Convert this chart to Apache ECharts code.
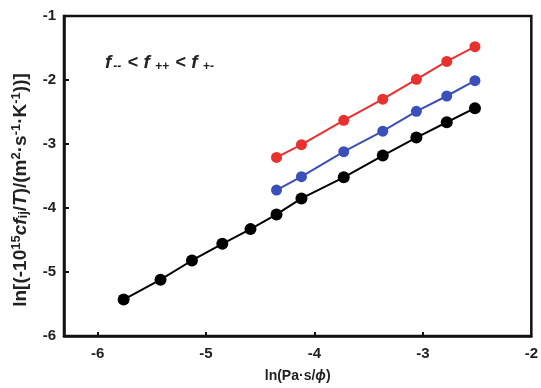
<!DOCTYPE html>
<html>
<head>
<meta charset="utf-8">
<script src="https://cdn.jsdelivr.net/npm/echarts@6/dist/echarts.min.js"></script>
<style>
  html, body { margin: 0; padding: 0; background: #fff; }
  #main { width: 541px; height: 388px; }
</style>
</head>
<body>
<div id="main"></div>
<script>
// data
var blackX = [-5.76, -5.42, -5.13, -4.85, -4.59, -4.35, -4.12, -3.73, -3.37, -3.06, -2.78, -2.52];
var blackY = [-5.43, -5.12, -4.82, -4.56, -4.33, -4.10, -3.85, -3.52, -3.18, -2.90, -2.66, -2.44];
var colX = [-4.35, -4.12, -3.73, -3.37, -3.06, -2.78, -2.52];
var blueY = [-3.72, -3.51, -3.12, -2.80, -2.49, -2.25, -2.01];
var redY = [-3.21, -3.01, -2.63, -2.30, -1.99, -1.71, -1.48];
var xTicks = [-6, -5, -4, -3, -2];

function pairs(xs, ys) {
  return xs.map(function (x, i) { return [x, ys[i]]; });
}

var chart = echarts.init(document.getElementById('main'));
var font = 'Liberation Sans';

chart.setOption({
  animation: false,
  grid: {
    left: 64, right: 8, top: 16, bottom: 49,
    show: true, borderColor: '#111', borderWidth: 2.5
  },
  xAxis: {
    type: 'value',
    min: -6.31, max: -2,
    splitLine: { show: false },
    axisLine: { show: true, onZero: false, lineStyle: { color: '#111', width: 2.5 } },
    axisTick: { show: true, inside: true, length: 4, customValues: [-6, -5, -4, -3], lineStyle: { color: '#111', width: 2 } },
    axisLabel: {
      customValues: xTicks, margin: 10, color: '#222',
      fontFamily: font, fontWeight: 'bold', fontSize: 15
    },
    name: 'ln(Pa·s/{i|ϕ})',
    nameLocation: 'middle', nameGap: 33,
    nameTextStyle: {
      fontFamily: font, fontWeight: 'bold', fontSize: 14, color: '#222',
      rich: { i: { fontFamily: font, fontWeight: 'bold', fontStyle: 'italic', fontSize: 14, color: '#222' } }
    }
  },
  yAxis: {
    type: 'value',
    min: -6, max: -1, interval: 1,
    splitLine: { show: false },
    axisLine: { show: true, onZero: false, lineStyle: { color: '#111', width: 2.5 } },
    axisTick: { show: true, inside: true, length: 5, lineStyle: { color: '#111', width: 2 } },
    axisLabel: { margin: 8, color: '#222', fontFamily: font, fontWeight: 'bold', fontSize: 15 }
  },
  graphic: [
    {
      type: 'text', x: 21, y: 190, rotation: Math.PI / 2,
      style: {
        text: 'ln[(-10{sup|15}{it|cf}{sub|ij}/{it|T})/(m{sup|2}·s{sup|-1}·K{sup|-1}))]',
        align: 'center', verticalAlign: 'middle',
        fontFamily: font, fontWeight: 'bold', fontSize: 19, fill: '#222',
        rich: {
          sup: { fontFamily: font, fontWeight: 'bold', fontSize: 13, fill: '#222', padding: [0, 0, 9, 0] },
          sub: { fontFamily: font, fontWeight: 'bold', fontSize: 13, fill: '#222', padding: [7, 0, 0, 0], verticalAlign: 'top' },
          it: { fontFamily: font, fontWeight: 'bold', fontStyle: 'italic', fontSize: 19, fill: '#222' }
        }
      }
    },
    {
      type: 'text', x: 105, y: 63,
      style: {
        text: '{f|f}{s|--} {t|<} {f|f}{s| ++} {t|<} {f|f}{s| +-}',
        verticalAlign: 'middle',
        rich: {
          f: { fontFamily: font, fontWeight: 'bold', fontStyle: 'italic', fontSize: 19, fill: '#222', padding: [0, 2, 0, 0] },
          t: { fontFamily: font, fontWeight: 'bold', fontSize: 18, fill: '#222', padding: [0, 2, 0, 2] },
          s: { fontFamily: font, fontWeight: 'bold', fontSize: 12, fill: '#222', padding: [7, 1, 0, 0], verticalAlign: 'top' }
        }
      }
    }
  ],
  series: [
    {
      type: 'line', data: pairs(blackX, blackY),
      symbol: 'circle', symbolSize: 12,
      lineStyle: { color: '#000', width: 2 },
      itemStyle: { color: '#000' }
    },
    {
      type: 'line', data: pairs(colX, blueY),
      symbol: 'circle', symbolSize: 11,
      lineStyle: { color: '#3b4fb8', width: 2 },
      itemStyle: { color: '#3b4fb8' }
    },
    {
      type: 'line', data: pairs(colX, redY),
      symbol: 'circle', symbolSize: 11,
      lineStyle: { color: '#e8302f', width: 2 },
      itemStyle: { color: '#e8302f' }
    }
  ]
});
</script>
</body>
</html>
